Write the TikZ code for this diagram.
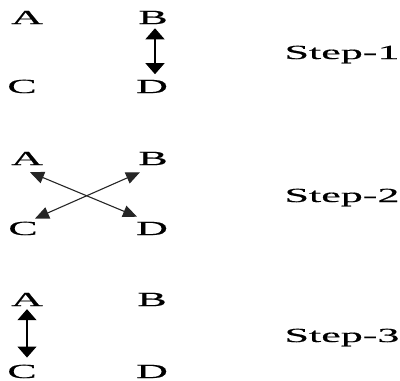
\documentclass[tikz,border=0pt]{standalone}
\usepackage{fontspec}
\setmainfont[FakeStretch=2.2, FakeBold=0.5]{Liberation Serif}
\usetikzlibrary{arrows.meta}

\begin{document}
\begin{tikzpicture}[x=1pt, y=-1pt,
  lbl/.style={anchor=base, inner sep=2pt, font=\fontsize{20}{22}\selectfont},
  varr/.style={{Triangle[length=11pt,width=19pt]}-{Triangle[length=11pt,width=19pt]}, line width=1.2pt},
  darr/.style={{Triangle[length=14pt,width=12pt]}-{Triangle[length=14pt,width=12pt]}, line width=1.1pt, black!85}]
\useasboundingbox (0,0) rectangle (400,381);

% step 1: B <-> D
\node[lbl] (a1) at (27,24) {A};
\node[lbl] (b1) at (153,24) {B};
\node[lbl] (c1) at (22,93) {C};
\node[lbl] (d1) at (152,93) {D};
\node[lbl] (s1) at (342,59) {Step-1};
\draw[varr, shorten <=2pt, shorten >=3.5pt] ([xshift=2pt]b1.south) -- ([xshift=2pt]b1.south |- d1.north);

% step 2: crossing arrows
\node[lbl] (a2) at (27,165) {A};
\node[lbl] (b2) at (153,165) {B};
\node[lbl] (c2) at (23,235) {C};
\node[lbl] (d2) at (152,235) {D};
\node[lbl] (s2) at (342,202) {Step-2};
\draw[darr] ([shift={(3,5)}]a2.south) -- ([shift={(-15,-3)}]d2.north);
\draw[darr] ([shift={(-13,5)}]b2.south) -- ([shift={(12,-1)}]c2.north);

% step 3: A <-> C
\node[lbl] (a3) at (27,306) {A};
\node[lbl] (b3) at (152,306) {B};
\node[lbl] (c3) at (22,378) {C};
\node[lbl] (d3) at (152,378) {D};
\node[lbl] (s3) at (342,342) {Step-3};
\draw[varr, shorten <=1pt, shorten >=5pt] (a3.south) -- (a3.south |- c3.north);
\end{tikzpicture}
\end{document}
